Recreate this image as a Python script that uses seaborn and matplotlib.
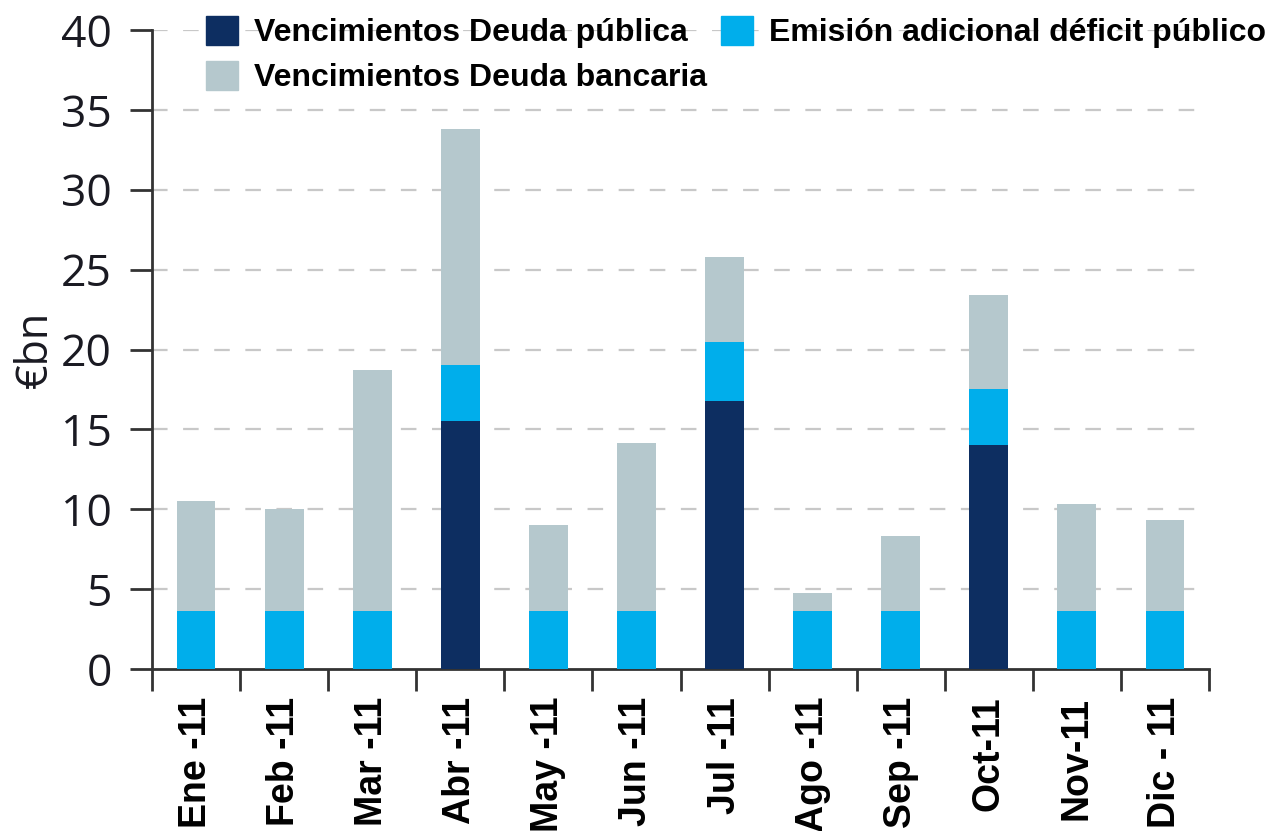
import numpy as np
import pandas as pd
import matplotlib
matplotlib.use("Agg")
import matplotlib.pyplot as plt
import seaborn as sns
from matplotlib.patches import Patch

# ---- data ----
months = ["Ene -11", "Feb -11", "Mar -11", "Abr -11", "May -11", "Jun -11",
          "Jul -11", "Ago -11", "Sep -11", "Oct-11", "Nov-11", "Dic - 11"]
deuda_publica = [0, 0, 0, 15.5, 0, 0, 16.8, 0, 0, 14.0, 0, 0]
emision_deficit = [3.6, 3.6, 3.6, 3.5, 3.6, 3.6, 3.7, 3.6, 3.6, 3.5, 3.6, 3.6]
deuda_bancaria = [6.9, 6.4, 15.1, 14.8, 5.4, 10.55, 5.3, 1.15, 4.7, 5.9, 6.7, 5.7]
yticks = [0, 5, 10, 15, 20, 25, 30, 35, 40]

labels = ["Vencimientos Deuda pública", "Vencimientos Deuda bancaria",
          "Emisión adicional déficit público"]
c_pub = "#0D2E61"
c_emi = "#00AEEB"
c_ban = "#B5C8CD"

pub = np.array(deuda_publica)
emi = np.array(emision_deficit)
ban = np.array(deuda_bancaria)
df = pd.DataFrame({"mes": months,
                   "l1": pub,
                   "l2": pub + emi,
                   "l3": pub + emi + ban})

sns.set_style("white")
fig = plt.figure(figsize=(12.73, 8.31), dpi=100)
ax = fig.add_axes([152/1273, 1-669/831, (1209-152)/1273, (669-30)/831])

w = 0.44
sns.barplot(data=df, x="mes", y="l3", color=c_ban, width=w, saturation=1, ax=ax, zorder=3, linewidth=0)
sns.barplot(data=df, x="mes", y="l2", color=c_emi, width=w, saturation=1, ax=ax, zorder=4, linewidth=0)
sns.barplot(data=df, x="mes", y="l1", color=c_pub, width=w, saturation=1, ax=ax, zorder=5, linewidth=0)

ax.set_xlim(-0.5, 11.5)
ax.set_ylim(0, 40)
ax.set_yticks(yticks)
ax.set_yticklabels([str(t) for t in yticks], fontsize=32, color="#1a1a22",
                   family=["Open Sans", "DejaVu Sans"])
for t in yticks[1:]:
    ax.axhline(t, color="#C8C8C8", lw=1.6, ls=(0, (7, 7)), zorder=1)

ax.set_xticks(range(12))
ax.set_xticklabels(months, rotation=90, fontsize=27, fontweight="bold",
                   family=["Liberation Sans", "DejaVu Sans"], va="top", color="black")
ax.set_xticks(np.arange(-0.5, 12, 1), minor=True)
ax.tick_params(axis="x", which="major", length=0, pad=20, bottom=True)
ax.tick_params(axis="x", which="minor", length=16, width=2, color="#333333",
               direction="out", bottom=True)
ax.tick_params(axis="y", which="major", length=16, width=2, color="#333333",
               direction="out", pad=13, left=True)

for s in ["top", "right"]:
    ax.spines[s].set_visible(False)
for s in ["left", "bottom"]:
    ax.spines[s].set_color("#333333")
    ax.spines[s].set_linewidth(2)

ax.set_xlabel("")
ax.set_ylabel("€bn", fontsize=31, color="#1a1a22", family=["Open Sans", "DejaVu Sans"], labelpad=2)

handles = [Patch(color=c_pub), Patch(color=c_ban), Patch(color=c_emi)]
fig.legend(handles, labels, loc="upper left", bbox_to_anchor=(206/1273, 1-16/831),
           ncol=2, frameon=False, borderpad=0, borderaxespad=0,
           prop={"family": "Liberation Sans", "weight": "bold", "size": 23},
           labelcolor="black",
           handlelength=1.0, handleheight=1.0, handletextpad=0.5,
           columnspacing=0.45, labelspacing=0.4)

fig.savefig("out.png", dpi=100)
